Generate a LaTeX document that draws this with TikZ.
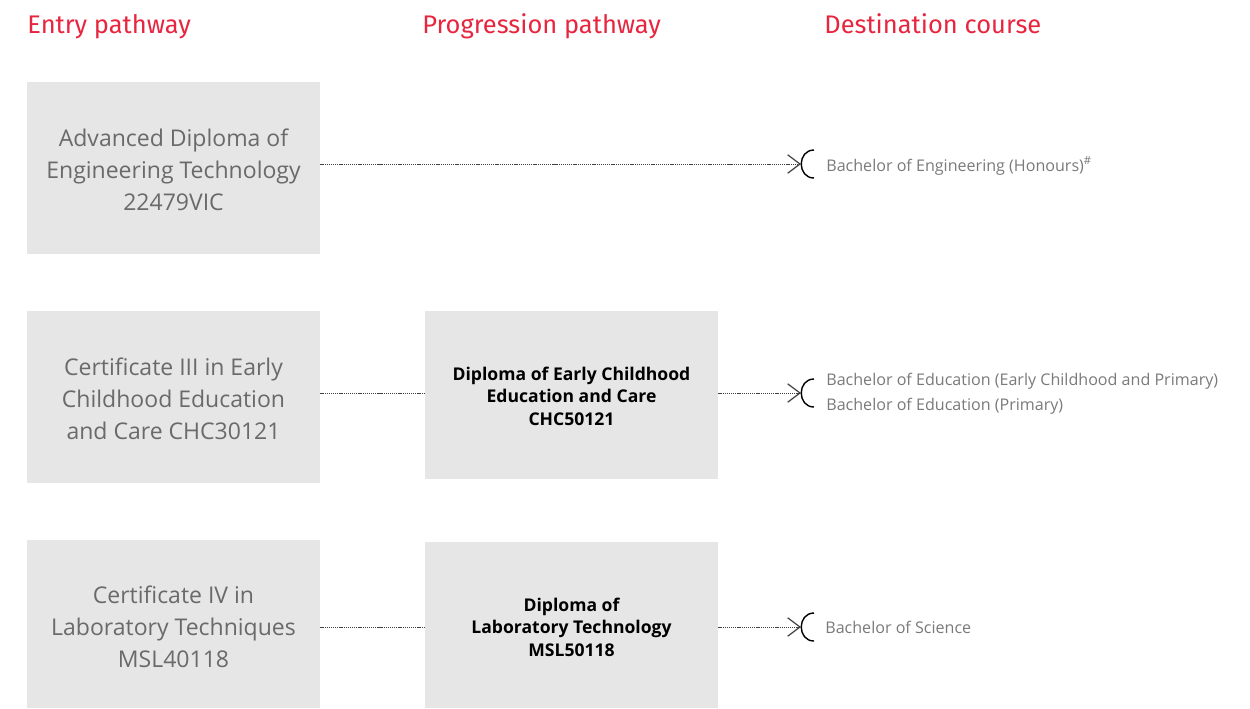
\documentclass[tikz,border=0pt]{standalone}
\usepackage{fontspec}
\setmainfont{Open Sans}
\newfontfamily\headfont{Fira Sans}
\usetikzlibrary{arrows.meta,calc}
\definecolor{headred}{HTML}{E8253F}
\definecolor{boxgray}{HTML}{E6E6E6}
\definecolor{txtgray}{HTML}{6A6A6A}
\definecolor{destgray}{HTML}{7A7A7A}
\begin{document}
\begin{tikzpicture}[x=0.02cm,y=-0.02cm,
  head/.style={anchor=base west,inner sep=0pt,text=headred,font=\headfont\fontsize{14.5}{17}\selectfont},
  entrybox/.style={fill=boxgray,minimum width=293*0.02cm,minimum height=172*0.02cm,inner sep=0pt,align=center,text=txtgray,font=\fontsize{13.1}{18.2}\selectfont},
  progbox/.style={fill=boxgray,minimum width=293*0.02cm,minimum height=168*0.02cm,inner sep=0pt,align=center,text=black,font=\bfseries\fontsize{10}{12.8}\selectfont},
  dest/.style={anchor=west,inner sep=0pt,text=destgray,align=left,font=\fontsize{9.15}{14.2}\selectfont},
  link/.style={draw=black!75,line width=0.5pt,dash pattern=on 0.7pt off 0.5pt},
  tipline/.style={link,-{Straight Barb[length=7pt,width=10.5pt,line width=0.7pt]}},
  bracket/.style={draw=black,line width=0.8pt}
]
\useasboundingbox (0,0) rectangle (1250,708);
% headings
\node[head] (h1) at (27,33) {Entry pathway};
\node[head] (h2) at (422,33) {Progression pathway};
\node[head] (h3) at (824,33) {Destination course};
% entry boxes
\node[entrybox] (e1) at (173.5,168) {};
\node[align=center,text=txtgray,font=\fontsize{13.1}{18.2}\selectfont,inner sep=0pt] (e1t) at (173.5,170) {Advanced Diploma of\\Engineering Technology\\22479VIC};
\node[entrybox] (e2) at (173.5,397) {};
\node[align=center,text=txtgray,font=\fontsize{13.1}{18.2}\selectfont,inner sep=0pt] (e2t) at (173.5,399) {Certificate III in Early\\Childhood Education\\and Care CHC30121};
\node[entrybox,minimum height=168*0.02cm] (e3) at (173.5,624) {};
\node[align=center,text=txtgray,font=\fontsize{13.1}{18.2}\selectfont,inner sep=0pt] (e3t) at (173.5,627) {Certificate IV in\\Laboratory Techniques\\MSL40118};
% progression boxes
\node[progbox] (p2) at (571.5,395) {};
\node[align=center,text=black,font=\bfseries\fontsize{10}{12.8}\selectfont,inner sep=0pt] (p2t) at (571.5,396) {Diploma of Early Childhood\\Education and Care\\CHC50121};
\node[progbox,minimum height=166*0.02cm] (p3) at (571.5,625) {};
\node[align=center,text=black,font=\bfseries\fontsize{10}{12.8}\selectfont,inner sep=0pt] (p3t) at (571.5,627) {Diploma of\\Laboratory Technology\\MSL50118};
% tips
\coordinate (t1) at (801,164);
\coordinate (t2) at (801,393);
\coordinate (t3) at (801,627);
% links
\draw[tipline] (e1.east |- t1) -- (t1);
\draw[link] (e2.east |- t2) -- (p2.west |- t2);
\draw[tipline] (p2.east |- t2) -- (t2);
\draw[link] (e3.east |- t3) -- (p3.west |- t3);
\draw[tipline] (p3.east |- t3) -- (t3);
% brackets
\foreach \t in {t1,t2,t3}{
  \draw[bracket] ($(\t)+(13,-14)$) .. controls ($(\t)+(-4,-14)$) and ($(\t)+(-4,14)$) .. ($(\t)+(13,14)$);
}
% destinations
\node[dest] (d1) at (826,166) {Bachelor of Engineering (Honours)\textsuperscript{\#}};
\node[dest] (d2) at (826,394) {Bachelor of Education (Early Childhood and Primary)\\Bachelor of Education (Primary)};
\node[dest] (d3) at (825,627) {Bachelor of Science};
\end{tikzpicture}
\end{document}
